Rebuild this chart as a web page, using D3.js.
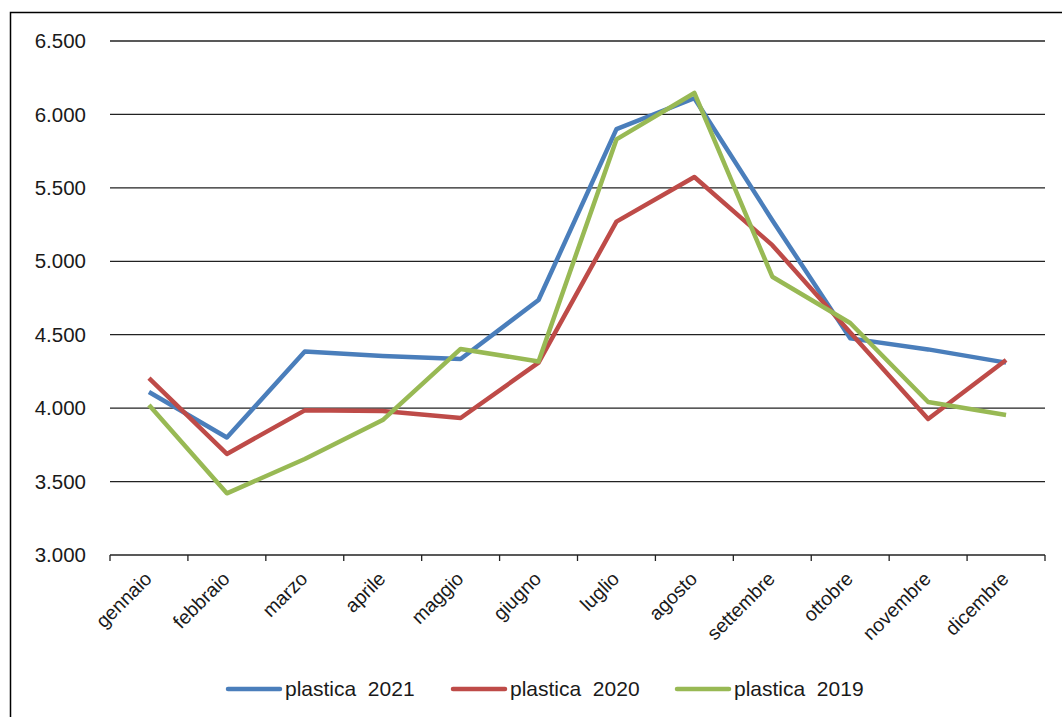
<!DOCTYPE html>
<html>
<head>
<meta charset="utf-8">
<script src="https://cdn.jsdelivr.net/npm/d3@7"></script>
<style>
  html, body { margin: 0; padding: 0; background: #fff; }
  svg { display: block; font-family: "Liberation Sans", Arial, sans-serif; }
</style>
</head>
<body>
<svg id="chart" width="1062" height="717"></svg>
<script>
const months = ["gennaio","febbraio","marzo","aprile","maggio","giugno","luglio","agosto","settembre","ottobre","novembre","dicembre"];
const plastica2021 = [4110, 3800, 4385, 4355, 4335, 4736, 5900, 6110, 5280, 4475, 4400, 4310];
const plastica2020 = [4205, 3688, 3985, 3980, 3933, 4310, 5270, 5574, 5110, 4515, 3926, 4328];
const plastica2019 = [4021, 3420, 3654, 3919, 4403, 4318, 5830, 6146, 4895, 4580, 4042, 3953];
const seriesNames = ["plastica  2021", "plastica  2020", "plastica  2019"];
const seriesColors = ["#4A7EBB", "#BE4B48", "#98B954"];
const yTicks = [3000, 3500, 4000, 4500, 5000, 5500, 6000, 6500];

(function () {
const series = [plastica2021, plastica2020, plastica2019];
const svg = d3.select("#chart");

// outer frame
svg.append("rect").attr("x", 10.5).attr("y", 12.5).attr("width", 1100).attr("height", 800)
  .attr("fill", "none").attr("stroke", "#000").attr("stroke-width", 1.5);

const pLeft = 110, pRight = 1045, pTop = 41, pBottom = 555;
const x = d3.scaleBand().domain(months).range([pLeft, pRight]);
const y = d3.scaleLinear().domain([3000, 6500]).range([pBottom, pTop]);
const fmt = v => d3.format(",")(v).replace(/,/g, ".");

// gridlines
svg.append("g").selectAll("line").data(yTicks.filter(t => t > 3000)).join("line")
  .attr("x1", pLeft).attr("x2", pRight)
  .attr("y1", d => y(d)).attr("y2", d => y(d))
  .attr("stroke", "#222").attr("stroke-width", 1.3);

// y labels
svg.append("g").selectAll("text").data(yTicks).join("text")
  .attr("x", 86).attr("y", d => y(d)).attr("dy", "0.35em")
  .attr("text-anchor", "end").attr("font-size", 20.5).attr("fill", "#1a1a1a")
  .text(fmt);

// x axis
const xAxis = svg.append("g").attr("transform", `translate(0,${pBottom})`);
xAxis.append("line").attr("x1", pLeft).attr("x2", pRight).attr("stroke", "#222").attr("stroke-width", 1.3);
const bounds = months.map(m => x(m)).concat([pRight]);
xAxis.selectAll("line.tick").data(bounds).join("line").attr("class", "tick")
  .attr("x1", d => d).attr("x2", d => d).attr("y1", 0).attr("y2", 6)
  .attr("stroke", "#222").attr("stroke-width", 1.3);
xAxis.selectAll("text").data(months).join("text")
  .attr("transform", d => `translate(${x(d) + x.bandwidth() / 2 + 4},${25}) rotate(-45)`)
  .attr("text-anchor", "end").attr("font-size", 19.5).attr("fill", "#1a1a1a")
  .text(d => d);

// lines
const line = d3.line().x((d, i) => x(months[i]) + x.bandwidth() / 2).y(d => y(d));
svg.append("g").selectAll("path").data(series).join("path")
  .attr("d", d => line(d)).attr("fill", "none")
  .attr("stroke", (d, i) => seriesColors[i]).attr("stroke-width", 4.5)
  .attr("stroke-linejoin", "round");

// legend
const legendX = [228, 453, 677];
const lg = svg.append("g").selectAll("g").data(seriesNames).join("g")
  .attr("transform", (d, i) => `translate(${legendX[i]},689)`);
lg.append("line").attr("x1", 0).attr("x2", 52).attr("stroke", (d, i) => seriesColors[i])
  .attr("stroke-width", 4.5).attr("stroke-linecap", "round");
lg.append("text").attr("x", 57).attr("dy", "0.35em").attr("font-size", 21).attr("fill", "#1a1a1a")
  .attr("xml:space", "preserve").style("white-space", "pre").text(d => d);
})();
</script>
</body>
</html>
